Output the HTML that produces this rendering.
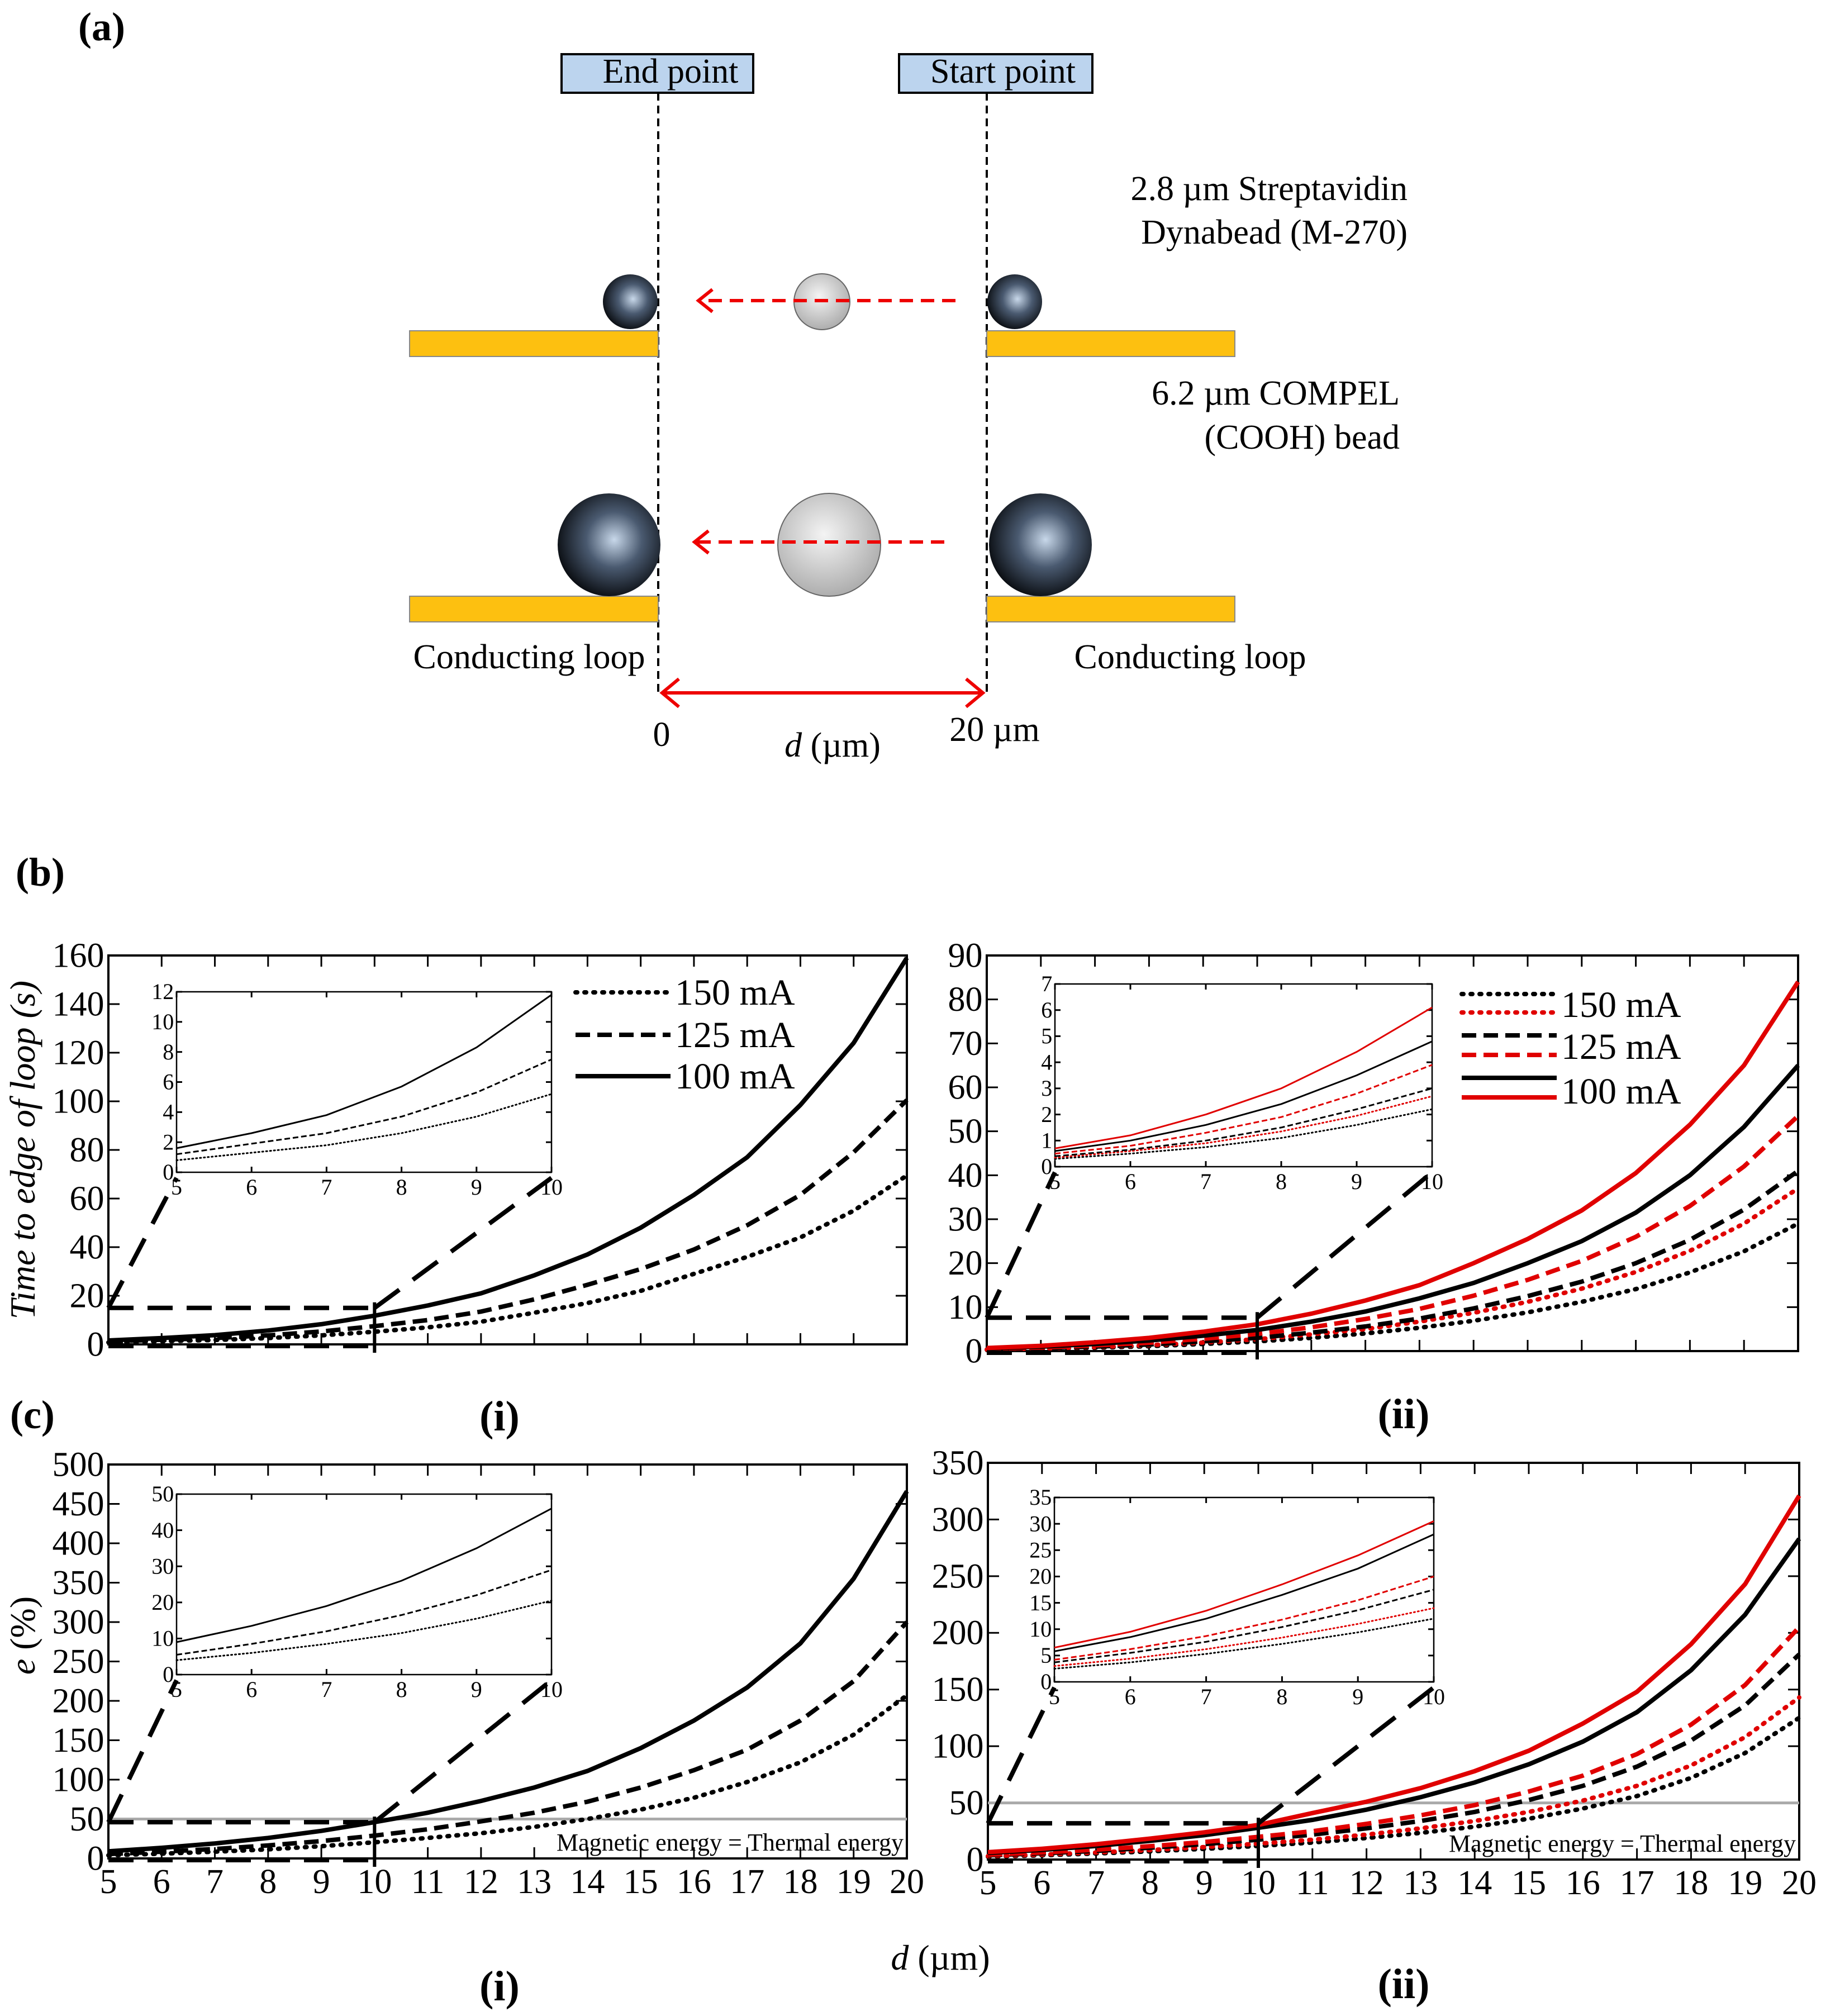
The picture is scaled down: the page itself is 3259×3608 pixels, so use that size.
<!DOCTYPE html>
<html><head><meta charset="utf-8"><style>
html,body{margin:0;padding:0;background:#fff}
svg{display:block}
svg, svg text{font-family:"Liberation Serif","Times New Roman",serif}
</style></head><body>
<svg id="fig" width="3259" height="3608" viewBox="0 0 3259 3608" xmlns="http://www.w3.org/2000/svg" font-family="Liberation Serif, serif">
<defs>
<radialGradient id="darkBead" cx="0.55" cy="0.45" r="0.6"><stop offset="0" stop-color="#c8d8ea"/><stop offset="0.45" stop-color="#4a5a70"/><stop offset="1" stop-color="#05070a"/></radialGradient>
<radialGradient id="grayBead" cx="0.45" cy="0.4" r="0.65"><stop offset="0" stop-color="#f4f4f4"/><stop offset="1" stop-color="#a8a8a8"/></radialGradient>
</defs>
<g>
<text x="140" y="72" font-size="72" font-weight="bold">(a)</text>
<rect x="1005" y="97" width="343" height="69" fill="#bcd4ee" stroke="#000" stroke-width="4"/>
<text x="1200" y="148" font-size="62" text-anchor="middle">End point</text>
<rect x="1609" y="97" width="346" height="69" fill="#bcd4ee" stroke="#000" stroke-width="4"/>
<text x="1795" y="148" font-size="62" text-anchor="middle">Start point</text>
<line x1="1178" y1="166" x2="1178" y2="1245" stroke="#000" stroke-width="4" stroke-dasharray="14 9"/>
<line x1="1766" y1="166" x2="1766" y2="1245" stroke="#000" stroke-width="4" stroke-dasharray="14 9"/>
<text font-size="62" text-anchor="end"><tspan x="2519" y="358">2.8 µm Streptavidin</tspan><tspan x="2519" y="436">Dynabead (M-270)</tspan></text>
<text font-size="62" text-anchor="end"><tspan x="2505" y="724">6.2 µm COMPEL</tspan><tspan x="2505" y="803">(COOH) bead</tspan></text>
<rect x="733" y="592" width="445" height="46" fill="#fdc010" stroke="#888" stroke-width="2"/>
<rect x="1766" y="592" width="444" height="46" fill="#fdc010" stroke="#888" stroke-width="2"/>
<rect x="733" y="1067" width="445" height="46" fill="#fdc010" stroke="#888" stroke-width="2"/>
<rect x="1766" y="1067" width="444" height="46" fill="#fdc010" stroke="#888" stroke-width="2"/>
<circle cx="1128" cy="540" r="49" fill="url(#darkBead)"/>
<circle cx="1471" cy="540" r="50" fill="url(#grayBead)" stroke="#666" stroke-width="2"/>
<circle cx="1816" cy="540" r="49" fill="url(#darkBead)"/>
<line x1="1710" y1="538" x2="1252" y2="538" stroke="#e00" stroke-width="6" stroke-dasharray="24 14"/>
<path d="M1275,518 L1250,538 L1275,558" fill="none" stroke="#e00" stroke-width="6"/>
<circle cx="1090" cy="975" r="92" fill="url(#darkBead)"/>
<circle cx="1484" cy="975" r="92" fill="url(#grayBead)" stroke="#666" stroke-width="2"/>
<circle cx="1862" cy="975" r="92" fill="url(#darkBead)"/>
<line x1="1690" y1="970" x2="1245" y2="970" stroke="#e00" stroke-width="6" stroke-dasharray="24 14"/>
<path d="M1268,950 L1243,970 L1268,990" fill="none" stroke="#e00" stroke-width="6"/>
<text x="947" y="1196" font-size="62" text-anchor="middle">Conducting loop</text>
<text x="2130" y="1196" font-size="62" text-anchor="middle">Conducting loop</text>
<line x1="1188" y1="1240" x2="1756" y2="1240" stroke="#e00" stroke-width="6"/>
<path d="M1215,1215 L1185,1240 L1215,1265" fill="none" stroke="#e00" stroke-width="6"/>
<path d="M1729,1215 L1759,1240 L1729,1265" fill="none" stroke="#e00" stroke-width="6"/>
<text x="1184" y="1335" font-size="62" text-anchor="middle">0</text>
<text x="1780" y="1326" font-size="62" text-anchor="middle">20 µm</text>
<text x="1490" y="1354" font-size="62" text-anchor="middle"><tspan font-style="italic">d</tspan> (µm)</text>
</g>
<text x="28" y="1585" font-size="72" font-weight="bold">(b)</text>
<text x="18" y="2556" font-size="72" font-weight="bold">(c)</text>
<text x="894" y="2560" font-size="76" font-weight="bold" text-anchor="middle">(i)</text>
<text x="2512" y="2556" font-size="76" font-weight="bold" text-anchor="middle">(ii)</text>
<text x="894" y="3580" font-size="76" font-weight="bold" text-anchor="middle">(i)</text>
<text x="2512" y="3576" font-size="76" font-weight="bold" text-anchor="middle">(ii)</text>
<text x="1683" y="3525" font-size="64" text-anchor="middle"><tspan font-style="italic">d</tspan> (µm)</text>
<text transform="translate(62,2058) rotate(-90)" font-size="64" font-style="italic" text-anchor="middle">Time to edge of loop (s)</text>
<text transform="translate(62,2927) rotate(-90)" font-size="64" text-anchor="middle"><tspan font-style="italic">e</tspan> (%)</text>
<g id="charts"></g>
</svg>
<script>
// shared x categories (d in µm)
const dValues = [5,6,7,8,9,10,11,12,13,14,15,16,17,18,19,20];
// (b)(i) time to edge
const bi100 = [1.6,2.6,3.8,5.7,8.3,11.8,16,21,28.4,37,48,61.5,77,98.5,124,159];
const bi125 = [1.2,1.9,2.6,3.7,5.3,7.5,10,13.5,18.5,24.5,31,39,49,61.5,79,100.5];
const bi150 = [0.8,1.3,1.8,2.6,3.7,5.2,7,9.3,13,17,22,29,36,44,55,69.5];
// (b)(ii) time to edge, black and red series
const bii100k = [0.6,1,1.6,2.4,3.5,4.8,6.7,9,12,15.5,20,25,31.5,40,51,65];
const bii100r = [0.7,1.2,2,3,4.4,6.1,8.5,11.5,15,20,25.5,32,40.5,51.5,65,84];
const bii125k = [0.4,0.65,1,1.5,2.2,3,4.2,5.6,7.4,9.7,12.5,15.8,20,25.3,32.2,41];
const bii125r = [0.5,0.8,1.3,1.9,2.8,3.9,5.4,7.3,9.6,12.6,16.2,20.5,26,33,42,53.5];
const bii150k = [0.3,0.5,0.75,1.1,1.6,2.2,3,4,5.3,6.9,8.8,11.2,14.1,17.9,22.7,29];
const bii150r = [0.35,0.6,0.9,1.35,1.95,2.7,3.8,5,6.7,8.7,11.2,14.2,18,22.8,29,37];
// (c)(i) e (%)
const ci100 = [9,13.5,19,26,35,46,58,73,90,111,140,175,217,273,355,466];
const ci125 = [5.5,8.5,12,16.5,22,29,37,47,58,72,90,112,138,175,225,300];
const ci150 = [4,6,8.5,11.5,15.5,20.5,26,32,40,50,62,77,97,122,157,207];
// (c)(ii) e (%)
const cii100k = [5.8,8.5,12,16.5,21.5,28,35,44,55,68,84,104,130,167,216,283];
const cii100r = [6.5,9.5,13.5,18.5,24,30.5,41,51,63,78,96,120,148,190,243,321];
const cii125k = [3.7,5.5,7.6,10.4,13.6,17.5,22,27.5,34,42,52.5,65,82,105,136,181];
const cii125r = [4.2,6.2,8.7,11.8,15.5,20,25,31.5,39,48,60,74,93,119,154,205];
const cii150k = [2.5,3.7,5.3,7.2,9.4,12,15,19,23.5,29,36,45,56,72,94,125];
const cii150r = [3,4.4,6.2,8.4,11,14,17.5,22,27.5,34,42,52,65,83,108,143];
// tick labels
const mainXTicks = [5,6,7,8,9,10,11,12,13,14,15,16,17,18,19,20];
const insetXTicks = [5,6,7,8,9,10];
const biYTicks = [0,20,40,60,80,100,120,140,160];
const biiYTicks = [0,10,20,30,40,50,60,70,80,90];
const ciYTicks = [0,50,100,150,200,250,300,350,400,450,500];
const ciiYTicks = [0,50,100,150,200,250,300,350];
const biInsetY = [0,2,4,6,8,10,12];
const biiInsetY = [0,1,2,3,4,5,6,7];
const ciInsetY = [0,10,20,30,40,50];
const ciiInsetY = [0,5,10,15,20,25,30,35];
const thermalLimit = 50;
const zoomTop = {bi:15, bii:7.6, ci:46, cii:32};

const NS = "http://www.w3.org/2000/svg";
const root = document.getElementById('charts');
function mk(tag, attrs, parent){
  const e = document.createElementNS(NS, tag);
  for (const k in attrs) e.setAttribute(k, attrs[k]);
  (parent||root).appendChild(e);
  return e;
}
const DASH = {dot:"3 13", dash:"26 13", solid:"none"};
const DASHI = {dot:"2 5", dash:"10 5", solid:"none"};

function drawSeries(g, sx, sy, xs, ys, style, color, width, dashes, name, maxX){
  let d = "";
  xs.forEach((x,i)=>{ if (x<=maxX) d += (d?"L":"M") + sx(x).toFixed(1) + "," + sy(ys[i]).toFixed(1); });
  const p = mk('path', {d:d, fill:"none", stroke:color, 'stroke-width':width, 'stroke-dasharray':dashes[style], 'stroke-linecap': style==='dot'?'round':'butt'}, g);
  
  
}

function axesBox(g, L, T, R, B, xTicks, yTicks, sx, sy, fs, tick, showX, name){
  const r = mk('rect', {x:L, y:T, width:R-L, height:B-T, fill:"#fff", stroke:"#000", 'stroke-width': tick>15?4:2.5}, g);
  
  
  xTicks.forEach(v=>{
    const x = sx(v);
    mk('line',{x1:x,y1:B,x2:x,y2:B-tick,stroke:"#000",'stroke-width':3},g);
    mk('line',{x1:x,y1:T,x2:x,y2:T+tick,stroke:"#000",'stroke-width':3},g);
    if (showX){
      const t = mk('text',{x:x,y:B+fs*1.0,'font-size':fs,'text-anchor':'middle'},g);
      t.textContent = v;
      
      
    }
  });
  yTicks.forEach(v=>{
    const y = sy(v);
    mk('line',{x1:L,y1:y,x2:L+tick,y2:y,stroke:"#000",'stroke-width':3},g);
    mk('line',{x1:R,y1:y,x2:R-tick,y2:y,stroke:"#000",'stroke-width':3},g);
    const t = mk('text',{x:L-fs*0.12,y:y+fs*0.33,'font-size':fs,'text-anchor':'end'},g);
    t.textContent = v;
    
    
  });
}

function chart(cfg){
  const g = mk('g',{});
  
  
  const [L,T,R,B] = cfg.box;
  const ymax = cfg.yTicks[cfg.yTicks.length-1];
  const sx = v => L + (v-5)/15*(R-L);
  const sy = v => B - v/ymax*(B-T);
  axesBox(g,L,T,R,B,mainXTicks,cfg.yTicks,sx,sy,62,20,cfg.showX,cfg.name);
  if (cfg.thermal){
    const gl = mk('line',{x1:L,y1:sy(thermalLimit),x2:R,y2:sy(thermalLimit),stroke:"#aaa",'stroke-width':5},g);
    
    
    const tt = mk('text',{x:R-6,y:B-14,'font-size':44,'text-anchor':'end'},g);
    tt.textContent = "Magnetic energy = Thermal energy";
    
    
  }
  cfg.series.forEach(s=>drawSeries(g,sx,sy,dValues,s.data,s.style,s.color,8,DASH,s.name,20));
  const zt = sy(cfg.zoom), zb = sy(0)+3;
  const [iL,iT,iR,iB] = cfg.inset;
  const e1 = mk('path',{d:`M${sx(5)},${zt}L${sx(10)},${zt}`,stroke:"#000",'stroke-width':8,'stroke-dasharray':"45 25",fill:"none"},g);
  
  const e2 = mk('path',{d:`M${sx(5)},${zb}L${sx(10)},${zb}`,stroke:"#000",'stroke-width':8,'stroke-dasharray':"45 25",fill:"none"},g);
  
  const e3 = mk('line',{x1:sx(10),y1:zt-10,x2:sx(10),y2:zb+12,stroke:"#000",'stroke-width':6},g);
  
  const e4 = mk('line',{x1:sx(5),y1:zt,x2:iL,y2:iB+10,stroke:"#000",'stroke-width':8,'stroke-dasharray':"55 30"},g);
  
  const e5 = mk('line',{x1:sx(10),y1:zt,x2:iR,y2:iB+10,stroke:"#000",'stroke-width':8,'stroke-dasharray':"55 30"},g);
  
  const gi = mk('g',{},g);
  
  
  const imax = cfg.insetY[cfg.insetY.length-1];
  const ix = v => iL + (v-5)/5*(iR-iL);
  const iy = v => iB - v/imax*(iB-iT);
  axesBox(gi,iL,iT,iR,iB,insetXTicks,cfg.insetY,ix,iy,40,10,true,cfg.name+'-inset');
  cfg.series.forEach(s=>drawSeries(gi,ix,iy,dValues,s.data,s.style,s.color,3,DASHI,s.name+'-inset',10));
  cfg.legend.forEach(e=>{
    const ln = mk('line',{x1:cfg.legX,y1:e.y,x2:cfg.legX+170,y2:e.y,stroke:e.color,'stroke-width':8,'stroke-dasharray':DASH[e.style],'stroke-linecap':e.style==='dot'?'round':'butt'},g);
    
    
    if (e.text){
      const t = mk('text',{x:cfg.legX+178,y:e.ty,'font-size':66},g);
      t.textContent = e.label;
      
      
    }
  });
}

const K="#000", RD="#e00000";
chart({name:"chart-b-i", box:[194,1710,1623,2406], inset:[316,1775,987,2098], yTicks:biYTicks, insetY:biInsetY, showX:false, zoom:zoomTop.bi,
  series:[{data:bi150,style:'dot',color:K,name:'series-150mA'},{data:bi125,style:'dash',color:K,name:'series-125mA'},{data:bi100,style:'solid',color:K,name:'series-100mA'}],
  legX:1030, legend:[{y:1776,ty:1798,style:'dot',color:K,label:'150 mA',text:1},{y:1852,ty:1874,style:'dash',color:K,label:'125 mA',text:1},{y:1926,ty:1948,style:'solid',color:K,label:'100 mA',text:1}]});
chart({name:"chart-b-ii", box:[1766,1710,3218,2418], inset:[1888,1761,2563,2088], yTicks:biiYTicks, insetY:biiInsetY, showX:false, zoom:zoomTop.bii,
  series:[{data:bii150k,style:'dot',color:K,name:'series-150mA-black'},{data:bii150r,style:'dot',color:RD,name:'series-150mA-red'},{data:bii125k,style:'dash',color:K,name:'series-125mA-black'},{data:bii125r,style:'dash',color:RD,name:'series-125mA-red'},{data:bii100k,style:'solid',color:K,name:'series-100mA-black'},{data:bii100r,style:'solid',color:RD,name:'series-100mA-red'}],
  legX:2616, legend:[{y:1779,ty:1820,style:'dot',color:K,label:'150 mA',text:1},{y:1812,style:'dot',color:RD,label:'150 mA red'},{y:1853,ty:1895,style:'dash',color:K,label:'125 mA',text:1},{y:1888,style:'dash',color:RD,label:'125 mA red'},{y:1929,ty:1975,style:'solid',color:K,label:'100 mA',text:1},{y:1964,style:'solid',color:RD,label:'100 mA red'}]});
chart({name:"chart-c-i", box:[194,2621,1623,3326], inset:[316,2674,987,2997], yTicks:ciYTicks, insetY:ciInsetY, showX:true, thermal:true, zoom:zoomTop.ci,
  series:[{data:ci150,style:'dot',color:K,name:'series-150mA'},{data:ci125,style:'dash',color:K,name:'series-125mA'},{data:ci100,style:'solid',color:K,name:'series-100mA'}], legend:[], legX:0});
chart({name:"chart-c-ii", box:[1768,2618,3220,3328], inset:[1887,2680,2566,3010], yTicks:ciiYTicks, insetY:ciiInsetY, showX:true, thermal:true, zoom:zoomTop.cii,
  series:[{data:cii150k,style:'dot',color:K,name:'series-150mA-black'},{data:cii150r,style:'dot',color:RD,name:'series-150mA-red'},{data:cii125k,style:'dash',color:K,name:'series-125mA-black'},{data:cii125r,style:'dash',color:RD,name:'series-125mA-red'},{data:cii100k,style:'solid',color:K,name:'series-100mA-black'},{data:cii100r,style:'solid',color:RD,name:'series-100mA-red'}], legend:[], legX:0});
</script>
</body></html>
